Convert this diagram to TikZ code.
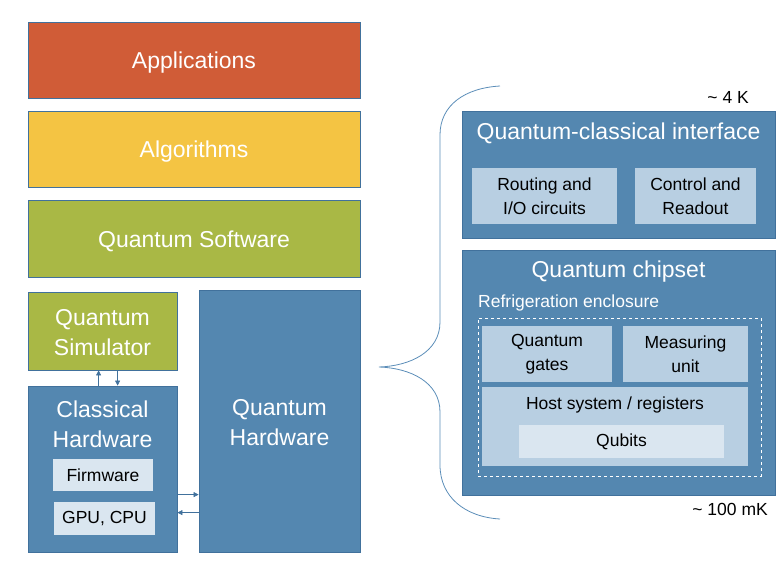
\documentclass[tikz,border=0pt]{standalone}
\usepackage{fontspec}
\setmainfont{Liberation Sans}
\usetikzlibrary{arrows.meta}
\definecolor{cred}{HTML}{D05C37}
\definecolor{cyel}{HTML}{F4C443}
\definecolor{cgrn}{HTML}{A9B845}
\definecolor{cblu}{HTML}{5487B0}
\definecolor{cbord}{HTML}{41719C}
\definecolor{clight}{HTML}{B8CFE2}
\definecolor{clighter}{HTML}{DAE6F0}
\definecolor{cbrace}{HTML}{5B8DB8}
\tikzset{
  box/.style={draw=cbord, line width=0.8pt, inner sep=0pt, align=center, text=white},
  smalltxt/.style={font=\fontsize{17.5}{24}\selectfont},
  sub/.style={fill=clight, inner sep=0pt, align=center, text=black, font=\fontsize{17.5}{24}\selectfont},
  lbl/.style={inner sep=0pt, align=center, text=white, font=\fontsize{23}{30}\selectfont},
  arr/.style={draw=cbord, line width=0.6pt, -{Triangle[length=5pt,width=5pt]}},
}
\begin{document}
\begin{tikzpicture}[x=1pt,y=-1pt]
\useasboundingbox (0,0) rectangle (782,578);
% left stack
\node[box, fill=cred, minimum width=332pt, minimum height=76pt] (app) at (194,60) {};
\node[lbl] (appt) at ([yshift=-3pt]app.center) {Applications};
\node[box, fill=cyel, minimum width=332pt, minimum height=76pt] (alg) at (194,149) {};
\node[lbl] (algt) at ([yshift=-3pt]alg.center) {Algorithms};
\node[box, fill=cgrn, minimum width=332pt, minimum height=77pt] (qsw) at (194,238.5) {};
\node[lbl] (qswt) at ([yshift=-3pt]qsw.center) {Quantum Software};
\node[box, fill=cgrn, minimum width=149pt, minimum height=78pt] (sim) at (102.5,331) {};
\node[lbl] (simt) at ([yshift=-2pt]sim.center) {Quantum\\Simulator};
\node[box, fill=cblu, minimum width=149pt, minimum height=166pt] (chw) at (102.5,469) {};
\node[lbl] (chwt) at (102.5,424) {Classical\\Hardware};
\node[sub, fill=clighter, minimum width=100pt, minimum height=32pt] (fw) at (103,475) {Firmware};
\node[sub, fill=clighter, minimum width=101pt, minimum height=33pt] (gpu) at (104.5,518.5) {GPU, CPU};
\node[box, fill=cblu, minimum width=161pt, minimum height=262pt] (qhw) at (279.5,421) {};
\node[lbl] (qhwt) at ([yshift=-2pt]qhw.center) {Quantum\\Hardware};
% arrows
\draw[arr] ([xshift=71pt]chw.north west) -- ([xshift=71pt]sim.south west);
\draw[arr] ([xshift=90pt]sim.south west) -- ([xshift=90pt]chw.north west);
\draw[arr] ([yshift=-109pt]chw.north east) -- ([yshift=-205pt]qhw.north west);
\draw[arr] ([yshift=-223pt]qhw.north west) -- ([yshift=-127pt]chw.north east);
% brace
\coordinate (bt) at (500,86);
\coordinate (bm) at (379,367);
\coordinate (bb) at (500,519);
\draw[cbrace, line width=0.8pt] (bt) .. controls (465,88) and (440,105) .. (440,135) -- (440,322)
  .. controls (440,352) and (410,366) .. (bm)
  .. controls (410,368) and (440,382) .. (440,412) -- (440,465)
  .. controls (440,497) and (465,517) .. (bb);
% right side
\node[box, fill=cblu, minimum width=313pt, minimum height=127pt] (qci) at (618.5,174.5) {};
\node[lbl] (qcit) at (618.5,133) {Quantum-classical interface};
\node[sub, minimum width=145pt, minimum height=56pt] (rout) at (544.5,196) {Routing and\\I/O circuits};
\node[sub, minimum width=121pt, minimum height=56pt] (ctrl) at (695.5,196) {Control and\\Readout};
\node[box, fill=cblu, minimum width=313pt, minimum height=245pt] (qcs) at (618.5,372.5) {};
\node[lbl] (qcst) at (618.5,272) {Quantum chipset};
\node[inner sep=0pt, anchor=west, text=white, smalltxt] (reft) at (478,303) {Refrigeration enclosure};
\node[draw=white, dashed, line width=0.6pt, minimum width=283pt, minimum height=158pt, inner sep=0pt] (encl) at (619.5,397) {};
\node[sub, minimum width=130pt, minimum height=56pt] (gates) at (547,354) {Quantum\\gates};
\node[sub, minimum width=125pt, minimum height=56pt] (meas) at (685.5,354) {Measuring\\unit};
\node[sub, minimum width=266pt, minimum height=79pt] (host) at (615,426.5) {};
\node[inner sep=0pt, text=black, smalltxt] (hostt) at (615,405) {Host system / registers};
\node[sub, fill=clighter, minimum width=205pt, minimum height=33pt] (qub) at (621.5,441.5) {Qubits};
\node[inner sep=0pt, anchor=east, text=black, smalltxt] (t4k) at (749,97) {\textasciitilde\ 4 K};
\node[inner sep=0pt, anchor=east, text=black, smalltxt] (t100) at (768,509) {\textasciitilde\ 100 mK};
\end{tikzpicture}
\end{document}
